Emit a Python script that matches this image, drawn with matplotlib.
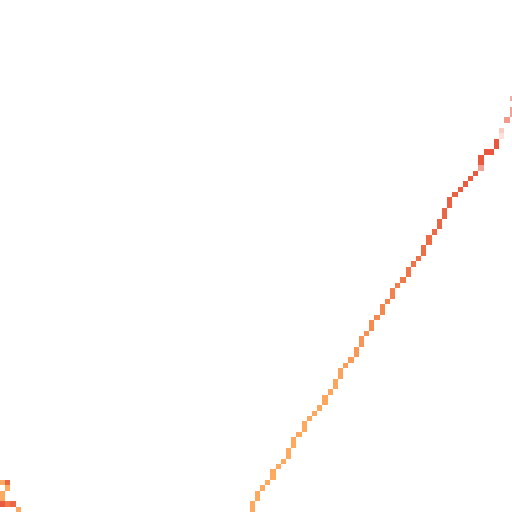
import numpy as np
import matplotlib
matplotlib.use("Agg")
import matplotlib.pyplot as plt
from matplotlib.colors import LinearSegmentedColormap

# || grid size of the raster
n_rows = 96
n_cols = 99

# || main trace: one entry per column (top row, bottom row, shade)
trace_cols = [48, 49, 50, 51, 52, 53, 54, 55, 56, 57, 58, 59, 60, 61, 62, 63,
              64, 65, 66, 67, 68, 69, 70, 71, 72, 73, 74, 75, 76, 77, 78, 79,
              80, 81, 82, 83, 84, 85, 86, 87, 88, 89, 90, 91, 92, 93, 94, 95]
trace_top = [94, 92, 91, 90, 88, 87, 86, 84, 82, 81, 79, 78, 77, 76, 74, 73,
             71, 69, 68, 67, 65, 63, 62, 60, 59, 57, 56, 54, 53, 52, 50, 49,
             48, 46, 44, 43, 41, 39, 37, 36, 35, 34, 33, 32, 29, 28, 28, 26]
trace_bot = [95, 93, 91, 90, 89, 87, 86, 85, 83, 81, 80, 78, 77, 76, 75, 73,
             72, 70, 68, 67, 66, 64, 62, 61, 59, 58, 56, 55, 53, 52, 51, 49,
             48, 47, 45, 43, 42, 40, 38, 36, 35, 34, 33, 32, 30, 28, 28, 27]
trace_shade = [0.00, 0.00, 0.00, 0.00, 0.00, 0.00, 0.00, 0.00, 0.00, 0.02,
               0.02, 0.02, 0.03, 0.03, 0.04, 0.05, 0.06, 0.10, 0.14, 0.18,
               0.22, 0.27, 0.32, 0.36, 0.40, 0.44, 0.48, 0.52, 0.56, 0.60,
               0.64, 0.67, 0.70, 0.73, 0.76, 0.79, 0.82, 0.85, 0.87, 0.89,
               0.91, 0.93, 0.94, 0.96, 0.97, 0.98, 0.99, 1.00]

# || faded tail at the top right (col, row, opacity)
fade_cols = [92, 96, 96, 97, 98, 98, 98]
fade_rows = [31, 24, 25, 22, 20, 21, 18]
fade_alpha = [0.55, 0.30, 0.18, 0.60, 0.55, 0.55, 0.50]

# || small fragment in the bottom left corner
frag_cols = [0, 1, 1, 0, 0, 0, 1, 2, 3]
frag_rows = [90, 90, 91, 92, 93, 94, 94, 94, 95]
frag_shade = [0.00, 0.85, 0.00, 0.00, 0.00, 0.95, 0.60, 0.80, 0.00]

grid = np.full((n_rows, n_cols), np.nan)
opacity = np.ones((n_rows, n_cols))

for c, r0, r1, s in zip(trace_cols, trace_top, trace_bot, trace_shade):
    grid[r0:r1 + 1, c] = s
for c, r, a in zip(fade_cols, fade_rows, fade_alpha):
    grid[r, c] = 1.0
    opacity[r, c] = a
for c, r, s in zip(frag_cols, frag_rows, frag_shade):
    grid[r, c] = s

cmap = LinearSegmentedColormap.from_list(
    "trace", ["#fdaa60", "#f3834f", "#e8573f"])
cmap.set_bad((1, 1, 1, 0))

fig = plt.figure(figsize=(5.12, 5.12), dpi=100)
ax = fig.add_axes([0, 0, 1, 1])
ax.imshow(grid, cmap=cmap, vmin=0, vmax=1, alpha=opacity,
          interpolation="nearest", aspect="auto")
ax.set_xlim(-0.5, -0.5 + 512 / 5.2)
ax.set_ylim(n_rows - 0.5, -0.5)
ax.axis("off")

fig.savefig("out.png", dpi=100, facecolor="white")
